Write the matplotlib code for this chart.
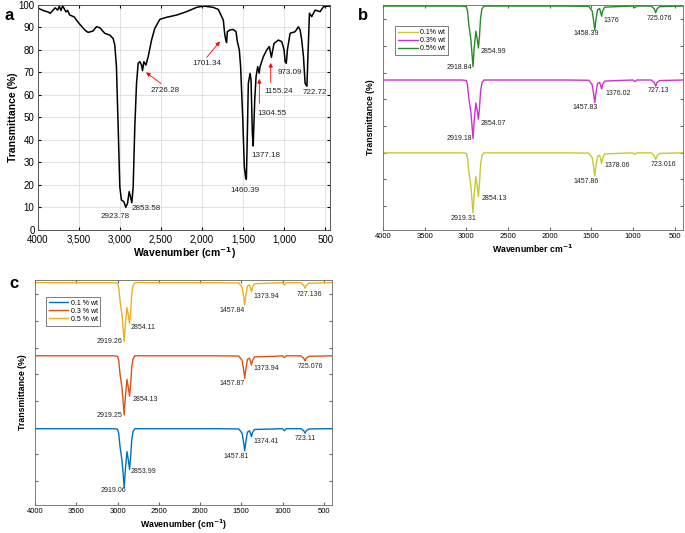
import matplotlib.pyplot as plt

# ---- panel a : neat polymer spectrum ----
wn_a = [4000, 3960, 3920, 3880, 3850, 3820, 3790, 3760, 3740, 3720, 3700, 3680,
        3660, 3640, 3613, 3560, 3500, 3430, 3390, 3330, 3288, 3247, 3186, 3125,
        3084, 3064, 3044, 3023, 3003, 2983, 2954, 2930, 2909, 2889, 2873, 2856,
        2840, 2820, 2799, 2779, 2759, 2738, 2726, 2710, 2685, 2657, 2616, 2576,
        2515, 2433, 2311, 2189, 2067, 1985, 1900, 1863, 1802, 1761, 1741, 1725,
        1712, 1701, 1692, 1660, 1619, 1586, 1570, 1546, 1530, 1505, 1485, 1468,
        1460, 1452, 1436, 1415, 1403, 1387, 1377, 1358, 1342, 1322, 1304, 1293,
        1253, 1212, 1180, 1155, 1123, 1070, 1029, 1000, 988, 973, 960, 927, 866,
        825, 805, 785, 764, 744, 722, 711, 691, 663, 622, 561, 520, 459, 440]
t_a = [98.5, 97.8, 97.2, 96.8, 96.2, 97.5, 98.6, 97.6, 99.2, 97.4, 99.5, 98.2,
       96.8, 97.5, 95.4, 94.6, 91.7, 88.8, 87.7, 88.3, 90.2, 89.8, 87.3, 86.5,
       85.0, 82.0, 72.5, 45.9, 19.2, 13.3, 12.6, 10.1, 11.8, 17.0, 14.8, 12.1,
       19.2, 45.9, 65.1, 74.0, 74.7, 73.2, 70.7, 74.7, 73.2, 76.9, 84.3, 89.5,
       93.5, 94.4, 95.4, 96.9, 98.8, 99.4, 99.0, 98.8, 97.9, 94.7, 93.2, 87.3,
       84.5, 83.2, 88.0, 88.8, 89.0, 88.0, 83.6, 79.9, 72.5, 50.3, 28.1, 23.0,
       22.5, 35.5, 65.1, 69.5, 66.6, 42.9, 37.3, 57.7, 68.0, 72.5, 69.6, 72.5,
       76.9, 79.9, 81.4, 76.6, 82.8, 84.3, 83.6, 79.9, 74.7, 74.0, 79.9, 87.3,
       88.0, 90.2, 88.8, 84.3, 76.9, 65.1, 63.8, 75.4, 96.2, 94.7, 97.6, 96.9,
       99.1, 99.4, 99.2]

# ---- panels b and c : offset spectra on a shared wavenumber grid ----
wn_bc = [4000, 3050, 3000, 2985, 2970, 2958, 2945, 2930, 2919, 2905, 2885, 2868,
         2854, 2842, 2828, 2812, 2790, 1800, 1530, 1490, 1472, 1458, 1445, 1425,
         1400, 1388, 1376, 1364, 1340, 1100, 1000, 978, 955, 780, 745, 727, 710,
         680, 400]

b_01 = [29.9, 29.9, 29.7, 28.1, 23.1, 20.5, 17.5, 11.9, 7.4, 14.1, 21.0, 17.4,
        13.5, 18.3, 25.4, 28.8, 29.9, 29.9, 29.8, 28.2, 24.7, 21.2, 24.7, 28.6,
        29.0, 27.6, 26.0, 27.9, 29.5, 29.8, 29.9, 29.3, 29.9, 29.9, 28.9, 27.5,
        28.9, 29.7, 29.9]
b_03 = [57.2, 57.2, 57.0, 55.4, 50.6, 48.0, 45.2, 39.7, 35.3, 41.9, 48.6, 45.6,
        42.5, 46.5, 53.0, 56.1, 57.2, 57.2, 57.1, 55.5, 52.1, 48.7, 52.1, 55.9,
        56.3, 55.2, 53.8, 55.5, 56.8, 57.1, 57.2, 56.6, 57.2, 57.2, 56.3, 54.9,
        56.3, 57.0, 57.2]
b_05 = [84.9, 84.9, 84.7, 83.1, 78.1, 75.4, 72.4, 66.7, 62.2, 69.0, 75.5, 72.4,
        69.2, 73.5, 80.4, 83.8, 84.9, 84.9, 84.8, 83.1, 79.5, 75.9, 79.5, 83.5,
        84.0, 82.6, 81.1, 83.0, 84.5, 84.8, 84.9, 84.3, 84.9, 84.9, 83.9, 82.4,
        83.9, 84.7, 84.9]

c_01 = [29.6, 29.6, 29.4, 27.8, 23.0, 20.4, 17.5, 12.0, 7.6, 14.2, 21.0, 17.7,
        14.4, 18.6, 25.2, 28.5, 29.6, 29.6, 29.5, 27.9, 24.6, 21.3, 24.6, 28.3,
        28.8, 27.8, 26.6, 28.1, 29.3, 29.5, 29.6, 28.8, 29.6, 29.6, 28.9, 27.9,
        28.9, 29.5, 29.6]
c_03 = [56.9, 56.9, 56.7, 55.1, 50.2, 47.6, 44.7, 39.1, 34.7, 41.4, 48.1, 44.9,
        41.8, 45.8, 52.5, 55.8, 56.9, 56.9, 56.8, 55.2, 51.8, 48.4, 51.8, 55.6,
        56.0, 54.8, 53.4, 55.1, 56.5, 56.7, 56.9, 56.2, 56.9, 56.9, 56.1, 55.0,
        56.1, 56.7, 56.9]
c_05 = [84.3, 84.3, 84.1, 82.5, 77.7, 75.0, 72.1, 66.6, 62.2, 68.8, 75.0, 72.0,
        69.0, 72.9, 79.8, 83.2, 84.3, 84.3, 84.2, 82.6, 79.3, 75.9, 79.3, 83.0,
        83.5, 82.3, 80.9, 82.6, 83.9, 84.2, 84.3, 83.4, 84.3, 84.3, 83.4, 82.2,
        83.4, 84.1, 84.3]

b_names = ['0.1% wt', '0.3% wt', '0.5% wt']
c_names = ['0.1 % wt', '0.3 % wt', '0.5 % wt']
b_colors = ['#c8c832', '#cc33cc', '#2a8a2a']
c_colors = ['#0072bd', '#d95319', '#edb120']

xticks = [4000, 3500, 3000, 2500, 2000, 1500, 1000, 500]
a_xticklabels = ['4000', '3,500', '3,000', '2,500', '2,000', '1,500', '1,000', '500']

# peak labels: (text, x, y, ha)
a_labels = [('2923.78', 3064, 5.9, 'center'), ('2853.58', 2860, 9.6, 'left'),
            ('1460.39', 1477, 17.5, 'center'), ('1377.18', 1220, 33.0, 'center'),
            ('973.09', 935, 70.0, 'center'), ('722.72', 622, 61.0, 'center')]
# arrowed labels: (text, text x, text y, head x, head y, tail x, tail y)
a_arrows = [('2726.28', 2453, 62.0, 2710, 70.7, 2474, 64.3),
            ('1701.34', 1945, 73.7, 1761, 84.6, 1965, 75.7),
            ('1304.55', 1151, 51.8, 1302, 68.3, 1302, 55.0),
            ('1155.24', 1070, 61.4, 1163, 75.4, 1163, 64.3)]

b_labels = [('2918.84', 2925, 62.0, 'right'), ('2854.99', 2833, 67.8, 'left'),
            ('1458.39', 1562, 74.7, 'center'), ('1376', 1350, 79.4, 'left'),
            ('725.076', 688, 80.3, 'center'),
            ('2919.18', 2930, 35.3, 'right'), ('2854.07', 2833, 41.0, 'left'),
            ('1457.83', 1570, 47.0, 'center'), ('1376.02', 1329, 52.2, 'left'),
            ('727.13', 688, 53.4, 'center'),
            ('2919.31', 3034, 5.4, 'center'), ('2854.13', 2813, 12.9, 'left'),
            ('1457.86', 1558, 19.1, 'center'), ('1378.06', 1341, 25.0, 'left'),
            ('723.016', 635, 25.7, 'center')]
c_labels = [('2919.26', 2942, 62.2, 'right'), ('2854.11', 2841, 67.5, 'left'),
            ('1457.84', 1607, 73.8, 'center'), ('1373.94', 1357, 79.0, 'left'),
            ('727.136', 680, 80.0, 'center'),
            ('2919.25', 2942, 34.7, 'right'), ('2854.13', 2821, 40.6, 'left'),
            ('1457.87', 1607, 46.6, 'center'), ('1373.94', 1357, 52.0, 'left'),
            ('725.076', 660, 52.8, 'center'),
            ('2919.06', 3055, 6.6, 'center'), ('2853.99', 2841, 13.5, 'left'),
            ('1457.81', 1566, 19.1, 'center'), ('1374.41', 1357, 24.7, 'left'),
            ('723.11', 720, 26.0, 'center')]

plt.rcParams['font.family'] = ['Liberation Sans', 'DejaVu Sans']

fig = plt.figure(figsize=(6.85, 5.33), dpi=100)

# ---------------- a ----------------
ax = fig.add_axes([0.0555, 0.5685, 0.4263, 0.4227])
ax.plot(wn_a, t_a, color='black', lw=1.1)
ax.set_xlim(4000, 440)
ax.set_ylim(0, 100)
ax.set_xticks(xticks)
ax.set_xticklabels(a_xticklabels)
ax.set_yticks(range(0, 101, 10))
ax.grid(True, color='#dddddd', lw=0.6)
ax.tick_params(direction='in', labelsize=7, top=True, right=True, length=2.5)
ax.tick_params(axis='x', pad=3.5)
ax.tick_params(axis='y', pad=2.5)
ax.set_xlabel('Wavenumber (cm$^{\\mathbf{-1}}$)', fontsize=7.5, fontweight='bold', labelpad=0.5)
ax.set_ylabel('Transmittance (%)', fontsize=7.5, fontweight='bold', labelpad=0.5)
for s in ax.spines.values():
    s.set_color('#555555')
    s.set_linewidth(0.7)
for txt, x, y, ha in a_labels:
    ax.text(x, y, txt, fontsize=5.8, ha=ha, va='center', color='#222222')
for txt, tx, ty, hx, hy, sx, sy in a_arrows:
    ax.annotate('', xy=(hx, hy), xytext=(sx, sy),
                arrowprops=dict(arrowstyle='-|>', color='red', lw=0.6,
                                mutation_scale=6))
    ax.text(tx, ty, txt, fontsize=5.8, ha='center', va='center', color='#222222')
fig.text(0.006, 0.985, 'a', fontsize=12, fontweight='bold', va='top')


def offset_panel(rect, series, names, colors, labels, xlabel, leg_anchor):
    ax = fig.add_axes(rect)
    for vals, name, col in zip(series, names, colors):
        ax.plot(wn_bc, vals, color=col, lw=1.0, label=name)
    ax.set_xlim(4000, 400)
    ax.set_ylim(1, 85.3)
    ax.set_xticks(xticks)
    ax.set_yticks(range(10, 81, 10))
    ax.set_yticklabels([])
    ax.tick_params(direction='in', labelsize=5.5, top=True, right=True, length=2, pad=2,
                   color='#666666')
    for s in ax.spines.values():
        s.set_color('#666666')
        s.set_linewidth(0.6)
    ax.set_xlabel(xlabel, fontsize=6.3, fontweight='bold', labelpad=2)
    ax.set_ylabel('Transmittance (%)', fontsize=6.3, fontweight='bold', labelpad=4)
    for txt, x, y, ha in labels:
        ax.text(x, y, txt, fontsize=5, ha=ha, va='center', color='#222222')
    leg = ax.legend(loc='upper left', bbox_to_anchor=leg_anchor, fontsize=5,
                    handlelength=2.8, handletextpad=0.3, borderpad=0.4,
                    labelspacing=0.15, fancybox=False, edgecolor='#666666',
                    framealpha=1)
    leg.get_frame().set_linewidth(0.6)
    return ax


offset_panel([0.559, 0.5685, 0.438, 0.4221], [b_01, b_03, b_05], b_names, b_colors,
             b_labels, 'Wavenumber cm$^{\\mathbf{-1}}$', (0.03, 0.92))
fig.text(0.522, 0.985, 'b', fontsize=12, fontweight='bold', va='top')

offset_panel([0.0511, 0.0525, 0.4336, 0.4222], [c_01, c_03, c_05], c_names, c_colors,
             c_labels, 'Wavenumber (cm$^{\\mathbf{-1}}$)', (0.026, 0.94))
fig.text(0.014, 0.483, 'c', fontsize=12, fontweight='bold', va='top')

fig.savefig('out.png', dpi=100)
